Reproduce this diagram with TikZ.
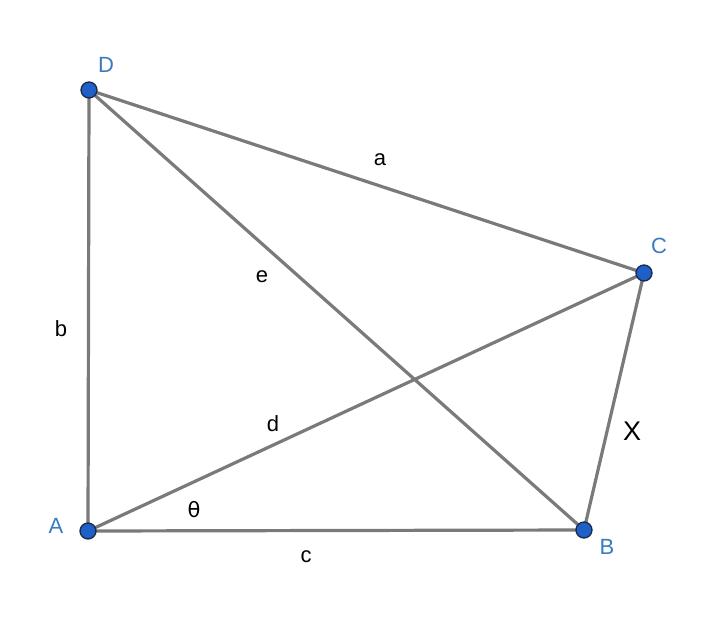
\documentclass[tikz,border=0pt]{standalone}
\usepackage{fontspec}
\setmainfont{Liberation Sans}
\newfontfamily\symfont{DejaVu Sans}
\definecolor{edgegray}{HTML}{7A7A7A}
\definecolor{ptblue}{HTML}{1E5FC8}
\definecolor{ptedge}{HTML}{1A2A4A}
\definecolor{lblblue}{HTML}{3A7CC0}
\tikzset{
  pt/.style={circle, fill=ptblue, draw=ptedge, line width=1.3pt, minimum size=16pt, inner sep=0pt},
  edge/.style={draw=edgegray, line width=3.2pt},
  ptlabel/.style={text=lblblue, font=\fontsize{22}{22}\selectfont, inner sep=0pt},
  seglabel/.style={text=black, font=\fontsize{22}{22}\selectfont, inner sep=0pt}
}
\begin{document}
\begin{tikzpicture}[x=1pt,y=-1pt]
\useasboundingbox (0,0) rectangle (720,632);
\fill[white] (0,0) rectangle (720,632);
\coordinate (A) at (88,531);
\coordinate (B) at (584,530);
\coordinate (C) at (644,273);
\coordinate (D) at (89,90);
\draw[edge] (D) -- (C);
\draw[edge] (D) -- (B);
\draw[edge] (D) -- (A);
\draw[edge] (A) -- (C);
\draw[edge] (A) -- (B);
\draw[edge] (B) -- (C);
\node[pt] (pA) at (A) {};
\node[pt] (pB) at (B) {};
\node[pt] (pC) at (C) {};
\node[pt] (pD) at (D) {};
\node[ptlabel] (lD) at (106,65) {D};
\node[ptlabel] (lC) at (659,246) {C};
\node[ptlabel] (lB) at (607,547) {B};
\node[ptlabel] (lA) at (56,526) {A};
\node[seglabel] (la) at (380,160) {a};
\node[seglabel] (le) at (262,277) {e};
\node[seglabel] (lb) at (61,329) {b};
\node[seglabel] (ld) at (273,424) {d};
\node[seglabel, font=\fontsize{27}{27}\selectfont] (lX) at (632,431) {X};
\node[seglabel, font=\symfont\fontsize{21}{21}\selectfont] (lt) at (194,510) {θ};
\node[seglabel] (lc) at (306,557) {c};
\end{tikzpicture}
\end{document}
